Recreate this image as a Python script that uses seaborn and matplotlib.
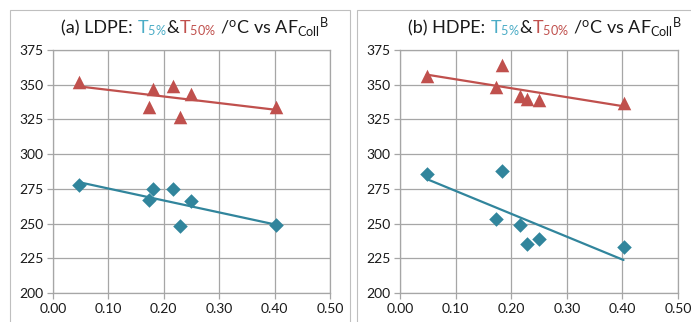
import matplotlib
matplotlib.use("Agg")
import matplotlib.pyplot as plt
import seaborn as sns
from matplotlib.offsetbox import TextArea, HPacker, AnchoredOffsetbox
from matplotlib.patches import Rectangle

# Collapse factor AF_Coll^B and the 5% / 50% mass-loss temperatures (°C)
af_ldpe = [0.047, 0.173, 0.181, 0.216, 0.230, 0.249, 0.402]
t5_ldpe = [278, 267, 275, 275, 248, 266, 249]
t50_ldpe = [352, 334, 347, 349, 327, 343, 334]

af_hdpe = [0.048, 0.172, 0.184, 0.215, 0.228, 0.250, 0.402]
t5_hdpe = [286, 253, 288, 249, 235, 239, 233]
t50_hdpe = [356, 348, 364, 342, 340, 339, 337]

panel_labels = ["(a) LDPE: ", "(b) HDPE: "]
x_ticks = [0.0, 0.1, 0.2, 0.3, 0.4, 0.5]
y_ticks = [200, 225, 250, 275, 300, 325, 350, 375]

TEAL = "#31859C"
TEAL_TXT = "#4BACC6"
RED = "#C0504D"
GRID = "#A6A6A6"
TXT = "#1A1A1A"

sns.set_theme(style="whitegrid")
plt.rcParams["font.family"] = ["Lato", "DejaVu Sans"]
plt.rcParams["mathtext.fontset"] = "custom"
plt.rcParams["mathtext.rm"] = "Lato"
plt.rcParams["mathtext.it"] = "Lato:italic"
plt.rcParams["mathtext.bf"] = "Lato:bold"

fig = plt.figure(figsize=(6.91, 3.22), dpi=100)
W, H = 691, 322

# chart frames
for x0, x1 in [(10, 350), (357, 700)]:
    fig.patches.append(Rectangle((x0 / W, -0.1), (x1 - x0) / W, 1.1 - 10 / H,
                                 transform=fig.transFigure, fill=False,
                                 edgecolor="#BFBFBF", linewidth=0.8))

axes_px = [(53, 330), (400, 678)]
datasets = [(af_ldpe, t5_ldpe, t50_ldpe), (af_hdpe, t5_hdpe, t50_hdpe)]
title_cx = [195, 545]

for (l, r), (af, t5, t50), label, cx in zip(axes_px, datasets, panel_labels, title_cx):
    ax = fig.add_axes([l / W, 1 - 293 / H, (r - l) / W, (293 - 50) / H])
    sns.regplot(x=af, y=t50, ax=ax, ci=None, marker="^", color=RED,
                scatter_kws={"s": 95, "linewidths": 0, "alpha": 1},
                line_kws={"linewidth": 1.6})
    sns.regplot(x=af, y=t5, ax=ax, ci=None, marker="D", color=TEAL,
                scatter_kws={"s": 55, "linewidths": 0, "alpha": 1},
                line_kws={"linewidth": 1.6})
    ax.set_xlim(0, 0.5)
    ax.set_ylim(200, 375)
    ax.set_xticks(x_ticks)
    ax.set_yticks(y_ticks)
    ax.set_xticklabels([f"{v:.2f}" for v in x_ticks])
    ax.set_facecolor("white")
    ax.grid(True, color=GRID, linewidth=0.9)
    for s in ax.spines.values():
        s.set_color(GRID)
        s.set_linewidth(0.9)
    ax.tick_params(axis="both", which="both", direction="out", length=4,
                   width=0.9, color=GRID, labelsize=10, labelcolor=TXT, pad=3)
    ax.tick_params(left=True, bottom=True)

    fs = 13
    parts = [
        TextArea(label, textprops=dict(color=TXT, size=fs)),
        TextArea(r"T$_{\mathregular{5\%}}$", textprops=dict(color=TEAL_TXT, size=fs)),
        TextArea("&", textprops=dict(color=TXT, size=fs)),
        TextArea(r"T$_{\mathregular{50\%}}$", textprops=dict(color=RED, size=fs)),
        TextArea(r" /$^{\mathregular{o}}$C vs AF$_{\mathregular{Coll}}{}^{\mathregular{B}}$",
                 textprops=dict(color=TXT, size=fs)),
    ]
    box = HPacker(children=parts, align="baseline", pad=0, sep=0)
    anchored = AnchoredOffsetbox(loc="center", child=box, pad=0, frameon=False,
                                 bbox_to_anchor=(cx / W, 1 - 27 / H),
                                 bbox_transform=fig.transFigure, borderpad=0)
    fig.add_artist(anchored)

fig.savefig("out.png", dpi=100)
